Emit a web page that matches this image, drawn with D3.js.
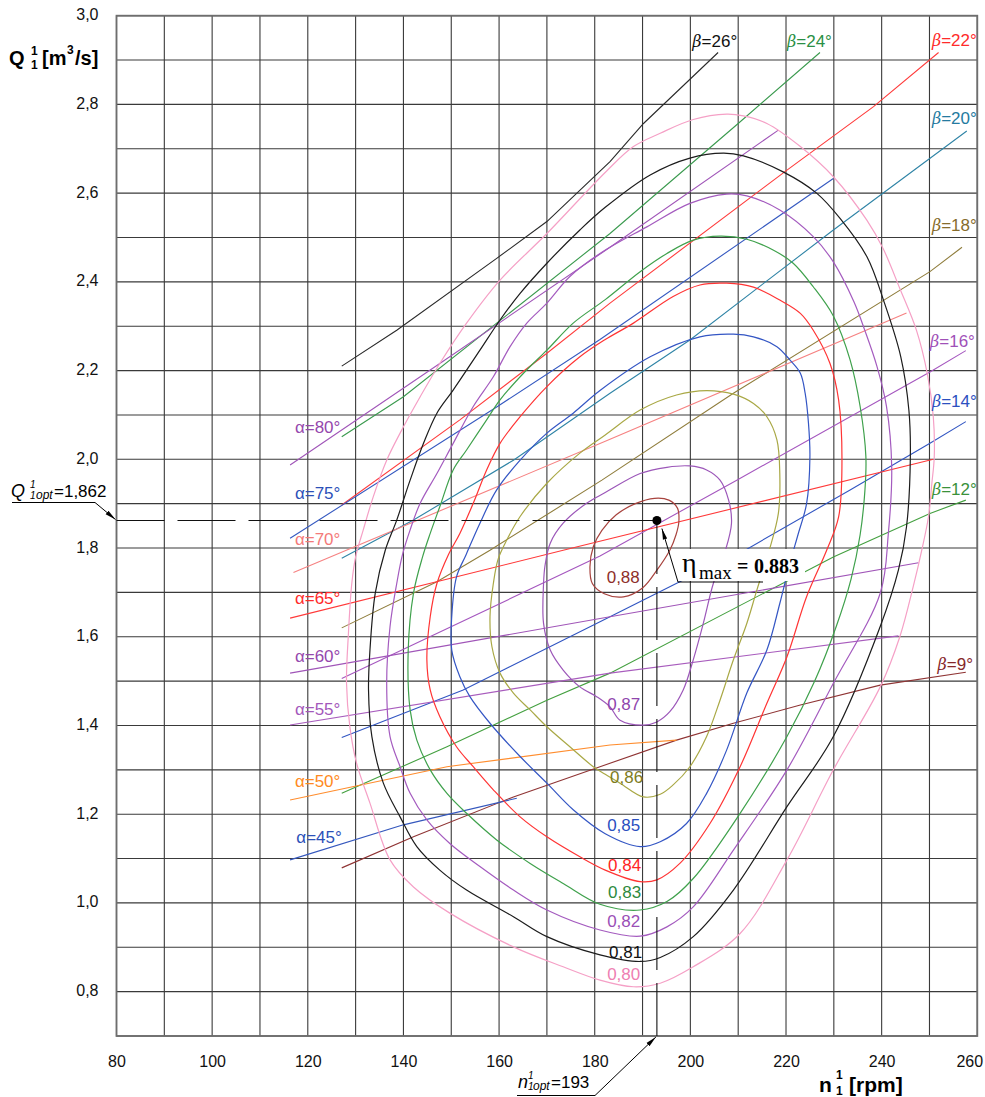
<!DOCTYPE html>
<html><head><meta charset="utf-8">
<script src="https://cdn.jsdelivr.net/npm/d3@7"></script>
<style>body{margin:0;background:#fff}svg{display:block}</style>
</head><body>
<svg id="chart" width="985" height="1097"></svg>
<script>
// ---------------- DATA ----------------
const xLabelTicks = [80,100,120,140,160,180,200,220,240,260];
const yLabelTicks = [0.8,1.0,1.2,1.4,1.6,1.8,2.0,2.2,2.4,2.6,2.8,3.0];
const yTickLabels = ["0,8","1,0","1,2","1,4","1,6","1,8","2,0","2,2","2,4","2,6","2,8","3,0"];

// efficiency iso-lines  [n11 (rpm), Q11 (m3/s)]
const eff080 = [[188.1,0.811],[193.7,0.819],[200.6,0.856],[210.4,0.931],[220.2,1.097],[229.9,1.300],[239.7,1.487],[243.8,1.600],[246.6,1.713],[248.4,1.796],[249.8,1.871],[250.5,1.946],[251.0,2.006],[250.8,2.096],[249.6,2.190],[247.3,2.290],[243.8,2.385],[240.3,2.475],[236.9,2.539],[229.9,2.637],[223.0,2.705],[216.0,2.757],[211.1,2.774],[207.6,2.778],[200.6,2.766],[193.7,2.735],[188.1,2.705],[182.5,2.650],[170.0,2.509],[160.2,2.404],[153.2,2.307],[147.6,2.216],[143.5,2.141],[139.3,2.059],[136.5,1.998],[133.7,1.916],[131.6,1.841],[130.0,1.780],[129.2,1.720],[128.5,1.608],[128.1,1.495],[128.8,1.397],[130.2,1.315],[133.0,1.225],[137.2,1.097],[142.1,1.036],[149.7,0.977],[163.0,0.901],[173.4,0.856],[181.1,0.826]];
const eff081 = [[189.5,0.868],[193.7,0.877],[200.6,0.924],[209.0,1.029],[220.2,1.217],[229.9,1.375],[239.7,1.623],[243.5,1.750],[245.2,1.848],[246.0,2.006],[245.7,2.110],[244.0,2.231],[240.5,2.355],[236.9,2.457],[231.3,2.543],[226.4,2.600],[219.4,2.648],[211.1,2.684],[206.9,2.690],[199.9,2.679],[191.6,2.641],[182.2,2.568],[176.9,2.517],[170.0,2.442],[164.4,2.374],[160.2,2.314],[156.0,2.246],[150.4,2.156],[147.0,2.104],[144.2,2.036],[141.4,1.953],[138.6,1.863],[136.2,1.795],[134.1,1.698],[133.0,1.570],[132.7,1.480],[133.4,1.375],[135.8,1.270],[139.3,1.194],[142.8,1.127],[147.6,1.074],[153.2,1.029],[163.0,0.969],[170.0,0.924],[181.1,0.883]];
const eff082 = [[189.5,0.925],[195.1,0.946],[200.6,0.991],[209.0,1.119],[220.2,1.300],[229.9,1.495],[239.7,1.698],[241.4,1.833],[242.1,1.983],[241.0,2.120],[239.0,2.210],[236.5,2.290],[234.2,2.355],[229.9,2.445],[225.7,2.502],[218.7,2.562],[211.8,2.594],[207.6,2.598],[199.9,2.577],[190.9,2.524],[181.1,2.464],[174.8,2.412],[170.0,2.352],[165.8,2.307],[162.3,2.254],[158.8,2.186],[154.6,2.119],[150.4,2.036],[147.0,1.968],[143.5,1.901],[141.4,1.841],[139.8,1.785],[138.6,1.720],[137.2,1.623],[136.5,1.495],[137.2,1.375],[139.3,1.307],[141.4,1.247],[144.9,1.187],[149.7,1.134],[156.0,1.082],[163.0,1.029],[170.0,0.984],[181.1,0.939]];
const eff083 = [[189.5,0.984],[195.1,1.003],[200.6,1.055],[210.4,1.202],[220.2,1.375],[226.0,1.500],[230.5,1.623],[233.6,1.730],[235.5,1.830],[236.5,1.930],[236.7,2.006],[235.5,2.119],[233.4,2.224],[229.9,2.323],[225.7,2.389],[221.5,2.442],[217.3,2.472],[211.8,2.496],[206.2,2.503],[200.6,2.494],[195.1,2.464],[189.5,2.423],[182.2,2.360],[175.5,2.307],[170.0,2.246],[165.1,2.194],[160.2,2.134],[157.4,2.089],[153.2,2.021],[150.4,1.976],[147.6,1.893],[145.6,1.833],[144.0,1.780],[142.1,1.698],[141.0,1.570],[141.4,1.435],[142.8,1.367],[145.6,1.300],[149.1,1.247],[153.2,1.202],[159.5,1.142],[166.5,1.089],[173.4,1.044],[181.1,0.997]];
const eff084 = [[189.5,1.048],[193.0,1.052],[197.8,1.089],[204.1,1.179],[210.4,1.307],[216.0,1.450],[220.2,1.555],[224.3,1.690],[228.5,1.795],[231.0,1.870],[231.7,2.000],[231.0,2.134],[229.2,2.216],[225.7,2.291],[223.0,2.329],[218.7,2.359],[213.2,2.388],[207.6,2.397],[202.0,2.393],[196.4,2.367],[188.1,2.307],[182.2,2.270],[176.9,2.231],[170.0,2.164],[164.4,2.096],[160.2,2.036],[157.4,1.976],[154.6,1.901],[151.8,1.833],[149.4,1.785],[147.0,1.720],[145.6,1.645],[144.9,1.548],[145.6,1.480],[147.6,1.420],[151.1,1.352],[154.6,1.307],[158.8,1.255],[164.4,1.194],[170.0,1.149],[176.9,1.104],[182.2,1.074]];
const eff085 = [[189.5,1.127],[193.7,1.138],[199.2,1.179],[203.4,1.247],[207.6,1.345],[211.8,1.473],[216.0,1.570],[218.7,1.675],[220.8,1.765],[222.5,1.830],[224.3,1.900],[225.0,2.006],[224.7,2.081],[224.0,2.149],[223.0,2.194],[220.8,2.224],[218.1,2.254],[213.2,2.276],[209.0,2.282],[202.0,2.276],[191.6,2.231],[181.1,2.155],[175.5,2.104],[170.0,2.059],[164.4,1.998],[159.5,1.931],[156.0,1.856],[153.1,1.785],[151.1,1.735],[150.1,1.645],[150.1,1.570],[151.8,1.510],[153.9,1.465],[158.1,1.405],[164.4,1.330],[170.0,1.270],[175.5,1.210],[182.2,1.156]];
const eff086 = [[190.2,1.239],[193.7,1.245],[196.4,1.266],[199.9,1.307],[203.4,1.375],[206.2,1.457],[209.0,1.548],[211.8,1.630],[213.9,1.705],[216.5,1.795],[218.4,1.878],[218.7,1.968],[218.1,2.044],[216.0,2.096],[213.2,2.126],[209.0,2.147],[203.4,2.155],[197.1,2.145],[189.5,2.111],[182.2,2.055],[176.9,2.014],[170.0,1.946],[164.4,1.871],[161.6,1.818],[159.8,1.775],[158.8,1.720],[158.1,1.645],[158.5,1.578],[160.2,1.518],[163.0,1.473],[166.5,1.435],[170.0,1.397],[174.8,1.352],[179.7,1.307],[182.2,1.290],[185.3,1.270]];
const eff087 = [[190.2,1.401],[193.0,1.408],[195.7,1.431],[198.5,1.480],[200.6,1.548],[202.7,1.630],[204.8,1.720],[207.2,1.790],[208.6,1.856],[208.0,1.908],[206.2,1.953],[203.4,1.976],[199.9,1.985],[195.1,1.982],[189.5,1.968],[182.2,1.925],[178.3,1.901],[173.4,1.856],[170.7,1.811],[169.6,1.760],[169.3,1.720],[169.3,1.630],[170.7,1.570],[173.4,1.525],[176.9,1.487],[180.4,1.465],[183.2,1.442],[185.3,1.412]];
const eff088 = [[179.0,1.758],[179.7,1.803],[181.5,1.840],[184.5,1.875],[188.5,1.900],[192.5,1.912],[195.5,1.908],[197.3,1.890],[197.6,1.860],[197.0,1.830],[195.7,1.795],[193.0,1.750],[190.0,1.710],[186.0,1.690],[182.0,1.697],[179.5,1.720]];
const contourNames = ["0,80","0,81","0,82","0,83","0,84","0,85","0,86","0,87","0,88"];
const contourSeries = [eff080,eff081,eff082,eff083,eff084,eff085,eff086,eff087,eff088];

// guide vane opening lines (alpha)
const alpha80 = [[116.3,1.987],[147.6,2.216],[183.2,2.478],[218.4,2.742]];
const alpha75 = [[116.3,1.822],[159.5,2.118],[181.1,2.270],[229.9,2.633]];
const alpha70 = [[117.0,1.745],[183.2,2.045],[245.2,2.330]];
const alpha65 = [[116.3,1.642],[173.4,1.795],[250.8,2.000]];
const alpha60 = [[116.3,1.518],[183.2,1.645],[247.7,1.767]];
const alpha55 = [[116.3,1.401],[183.2,1.518],[243.5,1.602]];
const alpha50 = [[116.3,1.232],[149.1,1.307],[183.2,1.356],[197.1,1.367]];
const alpha45 = [[116.3,1.097],[140.0,1.176],[163.7,1.236]];
const alphaNames = ["α=80°","α=75°","α=70°","α=65°","α=60°","α=55°","α=50°","α=45°"];
const alphaSeries = [alpha80,alpha75,alpha70,alpha65,alpha60,alpha55,alpha50,alpha45];

// runner blade angle lines (beta)
const beta26 = [[127.1,2.210],[138.6,2.291],[159.5,2.453],[170.0,2.536],[183.2,2.671],[190.2,2.757],[205.8,2.917]];
const beta24 = [[127.1,2.051],[140.0,2.141],[159.5,2.307],[183.2,2.509],[210.0,2.757],[227.1,2.917]];
const beta22 = [[127.1,1.897],[151.8,2.089],[170.0,2.239],[183.2,2.352],[220.2,2.652],[238.3,2.795],[251.9,2.917]];
const beta20 = [[127.1,1.777],[142.1,1.863],[163.0,1.998],[183.2,2.149],[199.9,2.269],[229.9,2.517],[257.8,2.740]];
const beta18 = [[127.1,1.620],[147.0,1.724],[158.1,1.795],[181.5,1.953],[209.0,2.149],[250.1,2.423],[256.8,2.478]];
const beta16 = [[127.1,1.506],[144.2,1.593],[181.1,1.782],[209.7,1.953],[250.1,2.197],[257.6,2.245]];
const beta14 = [[127.1,1.373],[152.5,1.480],[170.0,1.574],[183.2,1.645],[198.5,1.728],[209.0,1.780],[233.4,1.931],[250.1,2.036],[257.6,2.085]];
const beta12 = [[127.1,1.247],[149.1,1.352],[170.0,1.457],[183.2,1.518],[229.9,1.780],[250.1,1.878],[257.6,1.908]];
const beta9  = [[127.1,1.079],[142.1,1.149],[163.0,1.239],[181.1,1.307],[197.1,1.367],[209.0,1.405],[223.0,1.446],[239.7,1.491],[257.6,1.520]];
const betaNames = ["26°","24°","22°","20°","18°","16°","14°","12°","9°"];
const betaSeries = [beta26,beta24,beta22,beta20,beta18,beta16,beta14,beta12,beta9];

// optimum point
const nOpt = 193;
const qOpt = 1.862;
const etaMax = "0.883";

// ---------------- LAYOUT / STYLE ----------------
const contourColor = ["#f5a0c6","#1c1c1c","#a45bbf","#3fa14c","#ff3434","#3456c4","#a9a845","#9c57b9","#a8433e"];
const contourTextColor = ["#ee80b2","#111111","#9a4fb6","#2d8a3d","#ff2525","#2a4fc0","#7e7c1d","#8f46ad","#8e2f2a"];
const contourLabelAt = [[182.6,0.826],[183.0,0.876],[182.6,0.946],[182.8,1.010],[182.8,1.071],[182.6,1.161],[183.2,1.270],[182.6,1.435],[182.5,1.721]];
const alphaColor = ["#a055b8","#3559c0","#f68282","#ff3a3a","#a055b8","#a85cbd","#ff8d2e","#3457bd"];
const alphaTextColor = ["#9547ad","#2c50b8","#f47a7a","#ff2a2a","#9547ad","#a358bb","#ff8a22","#2c50b8"];
const alphaLabelAt = [[117.3,2.059],[117.3,1.910],[117.3,1.807],[117.3,1.674],[117.3,1.543],[117.3,1.424],[117.3,1.261],[117.6,1.135]];
const betaColor = ["#2a2a2a","#3a9a4e","#ff3b3b","#2f84a6","#8f7d3c","#a557bf","#3155c2","#44a040","#8f3434"];
const betaTextColor = ["#111111","#2a8f45","#ff2a2a","#257aa0","#866c2c","#a050b8","#2c50c0","#3a913a","#86282a"];
const betaLabelAt = [[209.8,2.930],[229.6,2.930],[259.9,2.932],[259.9,2.756],[259.9,2.515],[259.5,2.254],[259.9,2.119],[259.9,1.920],[259.1,1.525]];

const SANS = "'Liberation Sans', Arial, Helvetica, sans-serif";
const SERIF = "'Liberation Serif', 'Times New Roman', serif";

const svg = d3.select("#chart");
const x = d3.scaleLinear().domain([80,260]).range([116.5,977.3]);
const y = d3.scaleLinear().domain([0.7,3.0]).range([1036,15.7]);

const defs = svg.append("defs");
defs.append("marker").attr("id","arr").attr("viewBox","0 0 10 10")
  .attr("refX",10).attr("refY",5).attr("markerWidth",11).attr("markerHeight",11)
  .attr("markerUnits","userSpaceOnUse").attr("orient","auto")
  .append("path").attr("d","M0,3 L10,5 L0,7 Z").attr("fill","#000");

svg.append("rect").attr("width",985).attr("height",1097).attr("fill","#fff");

// grid
const gridX = d3.range(80,261,10);
const gridY = d3.range(7,31).map(v=>v/10);
const grid = svg.append("g");
grid.selectAll("line.gx").data(gridX).join("line")
  .attr("x1",d=>x(d)).attr("x2",d=>x(d)).attr("y1",y(3.0)).attr("y2",y(0.7))
  .attr("stroke","#3a3a3a").attr("stroke-width",1.1);
grid.selectAll("line.gy").data(gridY).join("line")
  .attr("y1",d=>y(d)).attr("y2",d=>y(d)).attr("x1",x(80)).attr("x2",x(260))
  .attr("stroke","#3a3a3a").attr("stroke-width",1.1);
svg.append("rect").attr("x",x(80)).attr("y",y(3.0)).attr("width",x(260)-x(80)).attr("height",y(0.7)-y(3.0))
  .attr("fill","none").attr("stroke","#6e6e6e").attr("stroke-width",1.8);

// axes (labels only)
const xAxis = d3.axisBottom(x).tickValues(xLabelTicks).tickSize(0).tickPadding(19.5).tickFormat(d3.format("d"));
const gx = svg.append("g").attr("transform",`translate(0,${y(0.7)})`).call(xAxis);
gx.select(".domain").remove();
gx.selectAll("text").attr("font-family",SANS).attr("font-size",16).attr("fill","#111")
  .attr("dx",d=>d===260?"-0.5em":"0");
const yAxis = d3.axisLeft(y).tickValues(yLabelTicks).tickSize(0).tickPadding(18)
  .tickFormat((d,i)=>yTickLabels[i]);
const gy = svg.append("g").attr("transform",`translate(${x(80)},0)`).call(yAxis);
gy.select(".domain").remove();
gy.selectAll("text").attr("font-family",SANS).attr("font-size",16).attr("fill","#111").attr("dy","0.25em");

// lines
const lineGen = d3.line().x(d=>x(d[0])).y(d=>y(d[1])).curve(d3.curveLinear);
const loopGen = d3.line().x(d=>x(d[0])).y(d=>y(d[1])).curve(d3.curveCatmullRomClosed.alpha(0.5));

svg.append("g").selectAll("path").data(betaSeries).join("path")
  .attr("d",lineGen).attr("fill","none").attr("stroke",(d,i)=>betaColor[i]).attr("stroke-width",1.1);
svg.append("g").selectAll("path").data(alphaSeries).join("path")
  .attr("d",lineGen).attr("fill","none").attr("stroke",(d,i)=>alphaColor[i]).attr("stroke-width",1.1);
svg.append("g").selectAll("path").data(contourSeries).join("path")
  .attr("d",loopGen).attr("fill","none").attr("stroke",(d,i)=>contourColor[i]).attr("stroke-width",1.2);

// labels
svg.append("g").selectAll("text").data(contourNames).join("text")
  .attr("x",(d,i)=>x(contourLabelAt[i][0])).attr("y",(d,i)=>y(contourLabelAt[i][1]))
  .attr("font-family",SANS).attr("font-size",17).attr("fill",(d,i)=>contourTextColor[i]).text(d=>d);
svg.append("g").selectAll("text").data(alphaNames).join("text")
  .attr("x",(d,i)=>x(alphaLabelAt[i][0])).attr("y",(d,i)=>y(alphaLabelAt[i][1]))
  .attr("font-family",SANS).attr("font-size",17).attr("fill",(d,i)=>alphaTextColor[i]).text(d=>d);
const bl = svg.append("g").selectAll("text").data(betaNames).join("text")
  .attr("x",(d,i)=>x(betaLabelAt[i][0])).attr("y",(d,i)=>y(betaLabelAt[i][1]))
  .attr("text-anchor","end").attr("font-family",SANS).attr("font-size",17).attr("fill",(d,i)=>betaTextColor[i]);
bl.append("tspan").attr("font-style","italic").attr("font-family","'DejaVu Serif', serif").attr("font-size",16).text("β");
bl.append("tspan").text(d=>"="+d);

// optimum dashed guides
svg.append("line").attr("x1",x(80)).attr("x2",x(nOpt)).attr("y1",y(qOpt)).attr("y2",y(qOpt))
  .attr("stroke","#111").attr("stroke-width",1.1).attr("stroke-dasharray","58,13").attr("stroke-dashoffset",10);
svg.append("line").attr("x1",x(nOpt)).attr("x2",x(nOpt)).attr("y1",y(0.7)).attr("y2",y(qOpt))
  .attr("stroke","#111").attr("stroke-width",1.1).attr("stroke-dasharray","53,13");
svg.append("circle").attr("cx",x(nOpt)).attr("cy",y(qOpt)).attr("r",4.5).attr("fill","#000");

// Q_opt annotation
svg.append("path").attr("d",`M12,502.5 L95,502.5 L${x(80)-1},${y(qOpt)-1}`)
  .attr("fill","none").attr("stroke","#000").attr("stroke-width",1).attr("marker-end","url(#arr)");
const qt = svg.append("g").attr("font-family",SANS).attr("fill","#000");
qt.append("text").attr("x",11).attr("y",497).attr("font-size",18).attr("font-style","italic").text("Q");
qt.append("text").attr("x",30).attr("y",488).attr("font-size",10).attr("font-style","italic").text("1");
qt.append("text").attr("x",30).attr("y",499).attr("font-size",10).attr("font-style","italic").text("1");
qt.append("text").attr("x",36).attr("y",499).attr("font-size",12).attr("font-style","italic").text("opt");
qt.append("text").attr("x",54).attr("y",497).attr("font-size",17).text("=1,862");

// n_opt annotation
svg.append("path").attr("d",`M517,1095.5 L595,1095.5 L${x(nOpt)-1},${y(0.7)+1}`)
  .attr("fill","none").attr("stroke","#000").attr("stroke-width",1).attr("marker-end","url(#arr)");
const nt = svg.append("g").attr("font-family",SANS).attr("fill","#000");
nt.append("text").attr("x",518).attr("y",1088).attr("font-size",18).attr("font-style","italic").text("n");
nt.append("text").attr("x",528).attr("y",1079).attr("font-size",10).attr("font-style","italic").text("1");
nt.append("text").attr("x",528).attr("y",1090).attr("font-size",10).attr("font-style","italic").text("1");
nt.append("text").attr("x",533).attr("y",1090).attr("font-size",12).attr("font-style","italic").text("opt");
nt.append("text").attr("x",551).attr("y",1088).attr("font-size",17).text("=193");

// eta max annotation
svg.append("rect").attr("x",679).attr("y",549).attr("width",126).attr("height",32).attr("fill","#fff");
svg.append("path").attr("d",`M763,582 L678,582 L${x(nOpt)+5},${y(qOpt)+8}`)
  .attr("fill","none").attr("stroke","#000").attr("stroke-width",1).attr("marker-end","url(#arr)");
const et = svg.append("g").attr("font-family",SERIF).attr("fill","#000");
et.append("text").attr("x",682).attr("y",572).attr("font-size",28).text("η");
et.append("text").attr("x",699).attr("y",579).attr("font-size",19).text("max");
et.append("text").attr("x",737).attr("y",573).attr("font-size",20).attr("font-weight","bold").text("=");
et.append("text").attr("x",754).attr("y",573).attr("font-size",20).attr("font-weight","bold").text(etaMax);

// axis titles
const yt = svg.append("g").attr("font-family",SANS).attr("font-weight","bold").attr("fill","#000");
yt.append("text").attr("x",9).attr("y",65).attr("font-size",20).text("Q");
yt.append("text").attr("x",31).attr("y",55).attr("font-size",12).text("1");
yt.append("text").attr("x",31).attr("y",69).attr("font-size",12).text("1");
yt.append("text").attr("x",42).attr("y",65).attr("font-size",20).text("[m");
yt.append("text").attr("x",67).attr("y",54).attr("font-size",12).text("3");
yt.append("text").attr("x",75).attr("y",65).attr("font-size",20).text("/s]");
const xt = svg.append("g").attr("font-family",SANS).attr("font-weight","bold").attr("fill","#000");
xt.append("text").attr("x",819).attr("y",1092).attr("font-size",21).text("n");
xt.append("text").attr("x",836).attr("y",1079).attr("font-size",12).text("1");
xt.append("text").attr("x",836).attr("y",1095).attr("font-size",12).text("1");
xt.append("text").attr("x",849).attr("y",1092).attr("font-size",21).text("[rpm]");
</script>
</body></html>
